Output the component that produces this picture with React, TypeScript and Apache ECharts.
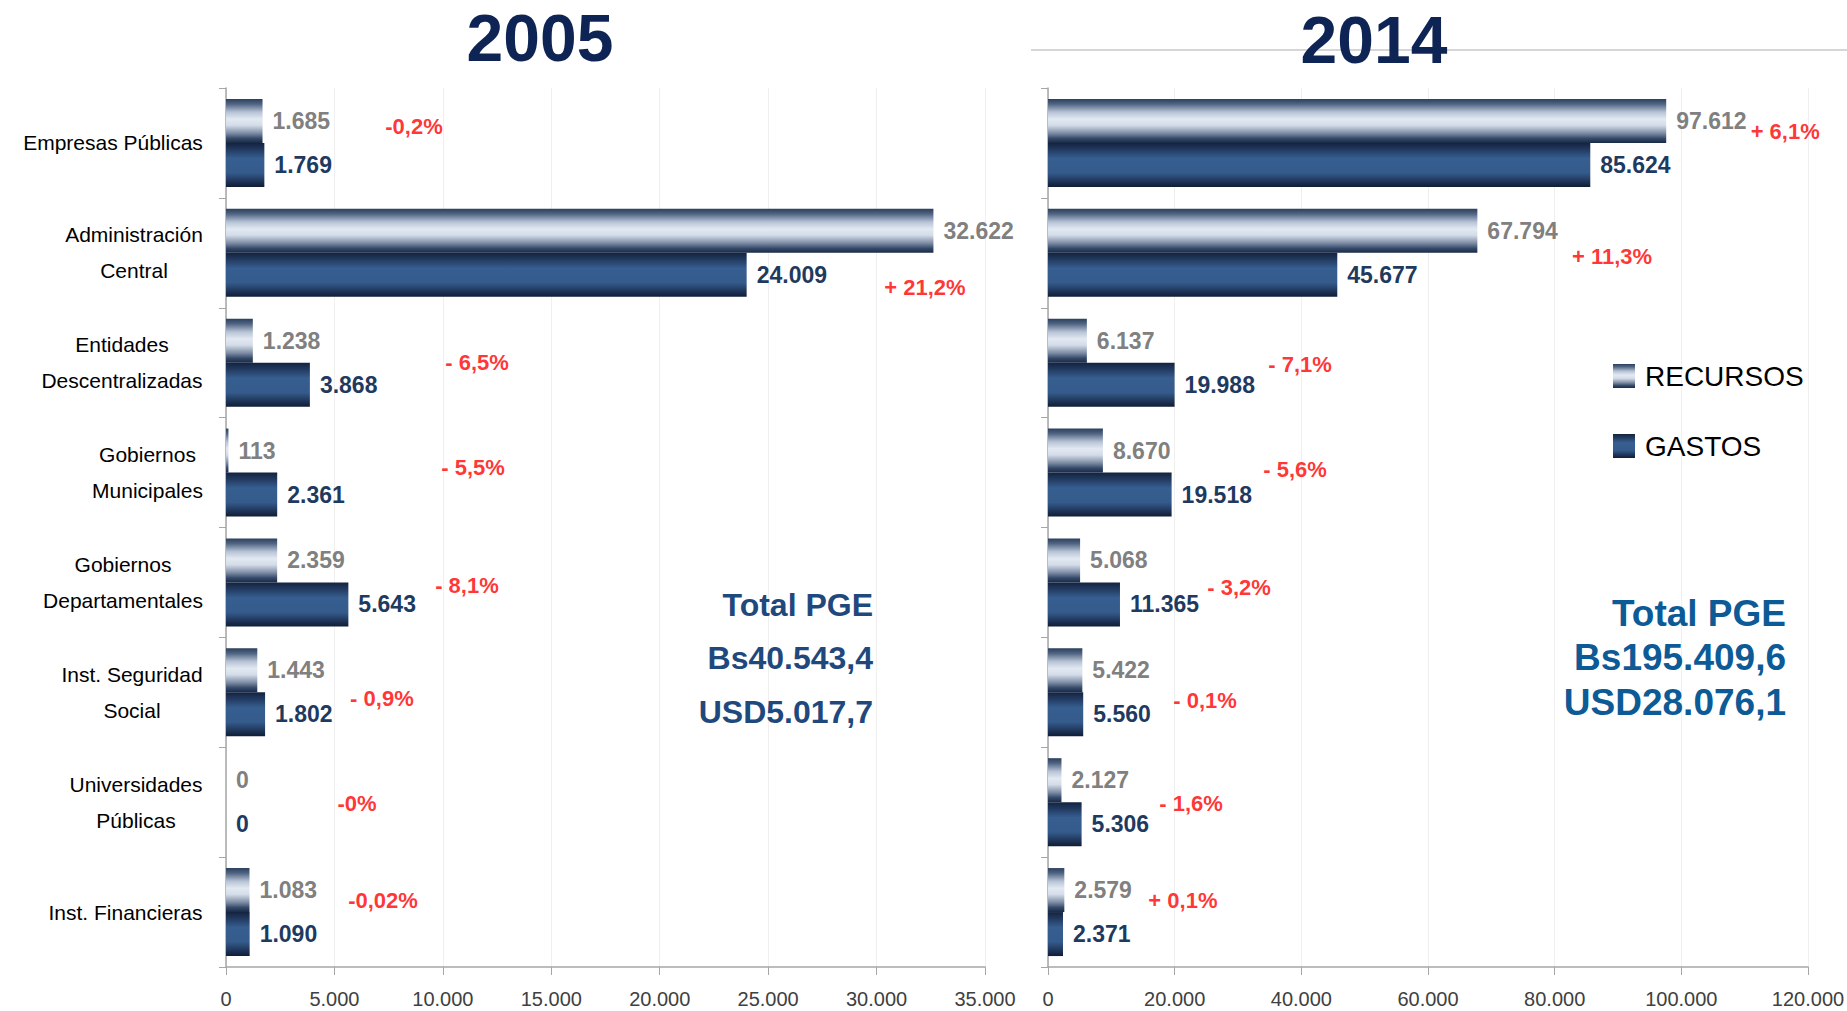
import React, { useEffect, useRef } from 'react';
import * as echarts from 'echarts';

const categories = [
  'Empresas Públicas',
  'Administración\nCentral',
  'Entidades\nDescentralizadas',
  'Gobiernos\nMunicipales',
  'Gobiernos\nDepartamentales',
  'Inst. Seguridad\nSocial',
  'Universidades\nPúblicas',
  'Inst. Financieras',
];
const seriesNames = ['RECURSOS', 'GASTOS'];
const years = ['2005', '2014'];

const recursos2005 = [1685, 32622, 1238, 113, 2359, 1443, 0, 1083];
const gastos2005 = [1769, 24009, 3868, 2361, 5643, 1802, 0, 1090];
const recursos2014 = [97612, 67794, 6137, 8670, 5068, 5422, 2127, 2579];
const gastos2014 = [85624, 45677, 19988, 19518, 11365, 5560, 5306, 2371];

const pct2005 = ['-0,2%', '+ 21,2%', '- 6,5%', '- 5,5%', '- 8,1%', '- 0,9%', '-0%', '-0,02%'];
const pct2014 = ['+ 6,1%', '+ 11,3%', '- 7,1%', '- 5,6%', '- 3,2%', '- 0,1%', '- 1,6%', '+ 0,1%'];
// anchor value (x axis units) where each change note is centred
const pctAnchor2005 = [8670, 32230, 11575, 11390, 11110, 7190, 6040, 7240];
const pctAnchor2014 = [116400, 89050, 39790, 39000, 30160, 24790, 22580, 21300];
// vertical nudge of each note from its row centre (px)
const pctShift2005 = [-16, 35, 0, -5, 3, 6, 1, -12];
const pctShift2014 = [-11, 4, 2, -3, 5, 8, 1, -12];

const axisMax = [35000, 120000];
const axisStep = [5000, 20000];

const total2005 = ['Total PGE', 'Bs40.543,4', 'USD5.017,7'];
const total2014 = ['Total PGE', 'Bs195.409,6', 'USD28.076,1'];

const SANS = '"Liberation Sans", Arial, sans-serif';

function fmt(v: number): string {
  return String(v).replace(/\B(?=(\d{3})+(?!\d))/g, '.');
}

function measure(text: string, size: number): number {
  const ctx = document.createElement('canvas').getContext('2d')!;
  ctx.font = `normal ${size}px ${SANS}`;
  return ctx.measureText(text).width;
}

const recursosGrad = () =>
  new echarts.graphic.LinearGradient(0, 0, 0, 1, [
    { offset: 0, color: '#2b3f5e' },
    { offset: 0.12, color: '#526684' },
    { offset: 0.3, color: '#b7c3d5' },
    { offset: 0.46, color: '#e2e9f2' },
    { offset: 0.6, color: '#d3dce8' },
    { offset: 0.78, color: '#7d8ca4' },
    { offset: 0.9, color: '#34496a' },
    { offset: 1, color: '#1a2a45' },
  ]);
const gastosGrad = () =>
  new echarts.graphic.LinearGradient(0, 0, 0, 1, [
    { offset: 0, color: '#13233f' },
    { offset: 0.15, color: '#223a60' },
    { offset: 0.35, color: '#365e90' },
    { offset: 0.68, color: '#345b8b' },
    { offset: 0.87, color: '#1f3559' },
    { offset: 1, color: '#0f1d36' },
  ]);

export default function App() {
  const ref = useRef<HTMLDivElement>(null);
  useEffect(() => {
    document.body.style.margin = '0';
    const chart = echarts.init(ref.current!, undefined, { renderer: 'svg' });

    const CAT_FS = 21;
    const rich: Record<string, any> = {};
    categories.forEach((c, i) => {
      const lines = c.split('\n');
      const w = Math.ceil(Math.max(...lines.map((l) => measure(l, CAT_FS))));
      rich['c' + i] = {
        width: w,
        align: 'center',
        fontSize: CAT_FS,
        fontFamily: SANS,
        color: '#000000',
        lineHeight: 36,
      };
    });

    const grids = [
      { left: 226, top: 88, width: 759, height: 879, outerBoundsMode: 'none', containLabel: false },
      { left: 1048, top: 88, width: 760, height: 879, outerBoundsMode: 'none', containLabel: false },
    ];

    const xAxes = [0, 1].map((i) => ({
      type: 'value',
      gridIndex: i,
      min: 0,
      max: axisMax[i],
      interval: axisStep[i],
      axisLine: { show: true, lineStyle: { color: '#a6a6a6', width: 1.5 } },
      axisTick: { show: true, length: 8, lineStyle: { color: '#a6a6a6' } },
      splitLine: { show: true, lineStyle: { color: '#f0f0f0', width: 1 } },
      axisLabel: {
        margin: 22,
        fontSize: 20,
        fontFamily: SANS,
        color: '#404040',
        formatter: (v: number) => fmt(v),
      },
    }));

    const yAxes = [0, 1].map((i) => ({
      type: 'category',
      gridIndex: i,
      inverse: true,
      data: categories,
      axisLine: { show: true, lineStyle: { color: '#a6a6a6', width: 1.5 } },
      axisTick: { show: true, length: 7, lineStyle: { color: '#a6a6a6' } },
      axisLabel:
        i === 0
          ? {
              show: true,
              margin: 23,
              interval: 0,
              formatter: (value: string, index: number) =>
                value
                  .split('\n')
                  .map((l) => `{c${index}|${l}}`)
                  .join('\n'),
              rich,
            }
          : { show: false },
    }));

    const bar = (name: string, data: number[], idx: number, labelColor: string, color: any) => ({
      type: 'bar',
      name,
      data,
      xAxisIndex: idx,
      yAxisIndex: idx,
      barWidth: 44,
      barGap: '0%',
      itemStyle: { color },
      label: {
        show: true,
        position: 'right',
        distance: 10,
        formatter: (p: any) => fmt(p.value),
        color: labelColor,
        fontSize: 23,
        fontWeight: 'bold',
        fontFamily: SANS,
      },
    });

    const notes = (texts: string[], anchors: number[], shifts: number[], idx: number) => ({
      type: 'scatter',
      xAxisIndex: idx,
      yAxisIndex: idx,
      symbolSize: 1,
      silent: true,
      z: 5,
      itemStyle: { color: 'rgba(0,0,0,0)' },
      data: texts.map((t, i) => ({ value: [anchors[i], i], label: { offset: [0, shifts[i]] } })),
      label: {
        show: true,
        position: 'inside',
        formatter: (p: any) => texts[p.dataIndex],
        color: '#ff0000',
        fontSize: 22,
        fontWeight: 'bold',
        fontFamily: SANS,
      },
    });

    const totalText = (lines: string[], x: number, ys: number[], font: string, fill: string) =>
      lines.map((t, k) => ({
        type: 'text',
        x,
        y: ys[k],
        z: 10,
        style: {
          text: t,
          font,
          fill,
          align: 'right',
          verticalAlign: 'middle',
          textAlign: 'right',
          textVerticalAlign: 'middle',
        },
      }));

    const option: any = {
      animation: false,
      grid: grids,
      xAxis: xAxes,
      yAxis: yAxes,
      legend: {
        data: seriesNames,
        orient: 'vertical',
        left: 1608,
        top: 357,
        itemWidth: 22,
        itemHeight: 24,
        itemGap: 42,
        icon: 'rect',
        textStyle: { fontSize: 28, lineHeight: 28, fontFamily: SANS, color: '#000000', padding: [0, 0, 0, 5] },
      },
      series: [
        bar(seriesNames[0], recursos2005, 0, '#808080', recursosGrad()),
        bar(seriesNames[1], gastos2005, 0, '#1f3a5f', gastosGrad()),
        bar(seriesNames[0], recursos2014, 1, '#808080', recursosGrad()),
        bar(seriesNames[1], gastos2014, 1, '#1f3a5f', gastosGrad()),
        notes(pct2005, pctAnchor2005, pctShift2005, 0),
        notes(pct2014, pctAnchor2014, pctShift2014, 1),
      ],
      graphic: [
        {
          type: 'line',
          shape: { x1: 1031, y1: 50, x2: 1847, y2: 50 },
          style: { stroke: '#c8c8c8', lineWidth: 1.5 },
          z: 1,
        },
        {
          type: 'text',
          x: 540,
          y: 38,
          z: 10,
          style: {
            text: years[0],
            font: `bold 66px ${SANS}`,
            fill: '#0d2454',
            align: 'center',
            verticalAlign: 'middle',
            textAlign: 'center',
            textVerticalAlign: 'middle',
          },
        },
        {
          type: 'text',
          x: 1374,
          y: 40,
          z: 10,
          style: {
            text: years[1],
            font: `bold 66px ${SANS}`,
            fill: '#0d2454',
            align: 'center',
            verticalAlign: 'middle',
            textAlign: 'center',
            textVerticalAlign: 'middle',
          },
        },
        ...totalText(total2005, 873, [605, 658, 712], `bold 32px ${SANS}`, '#1f497d'),
        ...totalText(total2014, 1786, [613, 657, 702], `bold 37px ${SANS}`, '#0c5a96'),
      ],
    };

    chart.setOption(option);
    return () => chart.dispose();
  }, []);
  return <div ref={ref} style={{ width: 1847, height: 1011 }} />;
}
